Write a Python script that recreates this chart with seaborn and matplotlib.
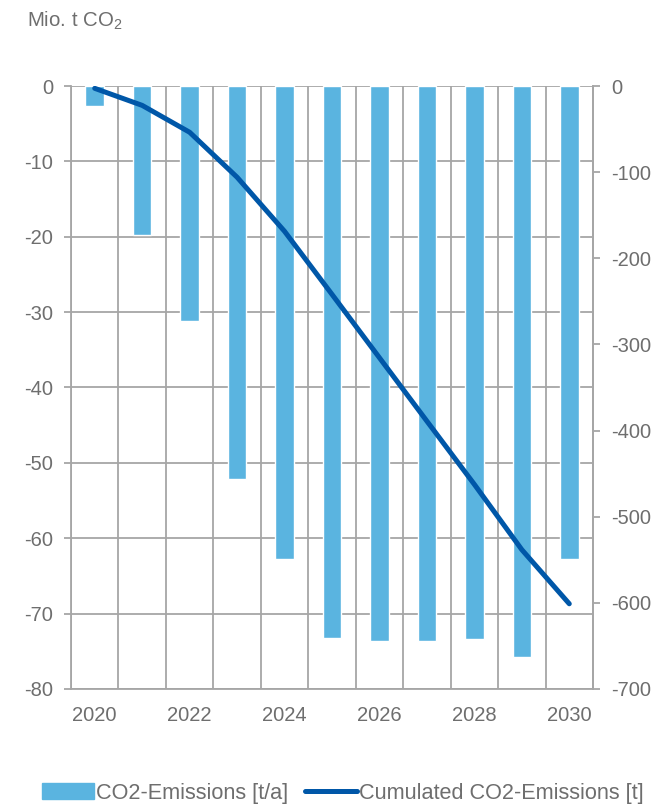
import matplotlib
matplotlib.use("Agg")
import matplotlib.pyplot as plt
from matplotlib.patches import Patch
from matplotlib.lines import Line2D
import seaborn as sns
import numpy as np

years = [2020, 2021, 2022, 2023, 2024, 2025, 2026, 2027, 2028, 2029, 2030]
emissions = [-2.7, -19.8, -31.2, -52.2, -62.8, -73.2, -73.6, -73.6, -73.4, -75.8, -62.8]
cumulated = [-2.7, -22.5, -53.7, -105.9, -168.7, -241.9, -315.5, -389.1, -462.5, -538.3, -601.1]
left_ticks = [0, -10, -20, -30, -40, -50, -60, -70, -80]
right_ticks = [0, -100, -200, -300, -400, -500, -600, -700]

bar_color = "#5AB4E0"
line_color = "#0057A8"
grid_color = "#A6A6A6"
text_color = "#6E6E6E"

sns.set_theme(style="white")
plt.rcParams["font.family"] = ["Liberation Sans", "DejaVu Sans"]
plt.rcParams["mathtext.default"] = "regular"

fig = plt.figure(figsize=(6.66, 8.06), dpi=100)
ax = fig.add_axes([0.1066, 0.1452, 0.7838, 0.7481])

pos = np.arange(len(years))
sns.barplot(x=pos, y=emissions, color=bar_color, saturation=1, width=0.39, ax=ax, native_scale=True)
ax.set_xlim(-0.5, len(years) - 0.5)
ax.set_ylim(-80, 0)
ax.set_yticks(left_ticks)
ax.set_yticklabels([str(t) for t in left_ticks])
ax.set_xticks(pos[::2])
ax.set_xticklabels([str(y) for y in years[::2]])
ax.set_xticks(np.arange(-0.5, len(years), 1), minor=True)
ax.set_axisbelow(True)
ax.grid(axis="y", which="major", color=grid_color, lw=1.3)
ax.grid(axis="x", which="minor", color=grid_color, lw=1.3)
ax.grid(axis="x", which="major", visible=False)
ax.tick_params(axis="x", which="both", length=0, pad=12, labelsize=14.5, labelcolor=text_color)
ax.tick_params(axis="y", length=5, width=1.3, color=grid_color, pad=8, labelsize=14.5,
               labelcolor=text_color, left=True)
for side in ["left", "bottom", "right"]:
    ax.spines[side].set_color(grid_color)
    ax.spines[side].set_linewidth(1.3)
ax.spines["top"].set_visible(False)
ax.set_xlabel("")
ax.set_ylabel("")

ax2 = ax.twinx()
sns.lineplot(x=pos, y=cumulated, color=line_color, lw=3.6, ax=ax2, solid_capstyle="round")
ax2.set_ylim(-700, 0)
ax2.set_yticks(right_ticks)
ax2.set_yticklabels([str(t) for t in right_ticks])
ax2.tick_params(axis="y", length=5, width=1.3, color=grid_color, pad=8, labelsize=14.5,
                labelcolor=text_color, right=True)
for side in ["left", "bottom", "top"]:
    ax2.spines[side].set_visible(False)
ax2.spines["right"].set_color(grid_color)
ax2.spines["right"].set_linewidth(1.3)
ax2.grid(False)
ax2.set_ylabel("")

fig.text(0.041, 0.988, "Mio. t CO$_2$", fontsize=14.7, color=text_color, va="top", ha="left")

handles = [Patch(color=bar_color), Line2D([], [], color=line_color, lw=3.6, solid_capstyle="round")]
labels = ["CO2-Emissions [t/a]", "Cumulated CO2-Emissions [t]"]
leg = fig.legend(handles, labels, loc="center", bbox_to_anchor=(0.515, 0.016), ncol=2, frameon=False,
                 fontsize=15.6, handlelength=2.4, handletextpad=0.12, columnspacing=0.75)
for t in leg.get_texts():
    t.set_color(text_color)

fig.savefig("out.png", dpi=100)
